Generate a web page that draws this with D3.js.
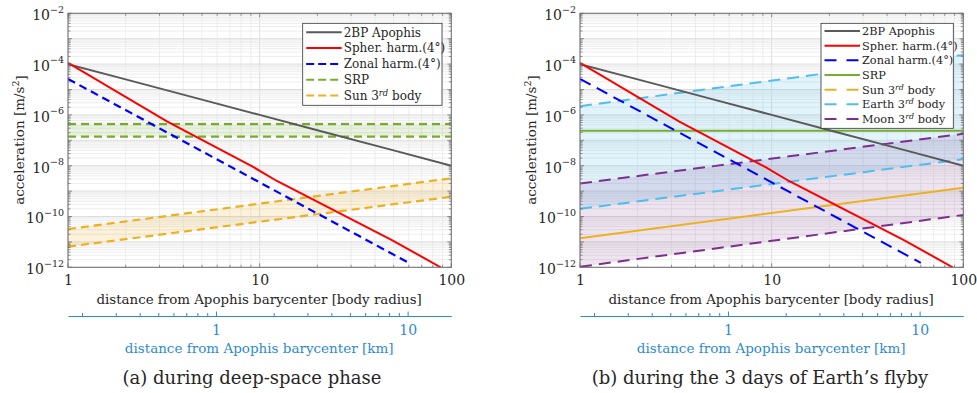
<!DOCTYPE html>
<html>
<head>
<meta charset="utf-8">
<script src="https://cdn.jsdelivr.net/npm/d3@7"></script>
<style>
body { margin: 0; background: #fff; }
svg, svg text { font-family: "DejaVu Serif", "Liberation Serif", serif; }
text { fill: #262626; }
</style>
</head>
<body>
<script>
// distance [body radius] and acceleration [m/s^2]
const dist2BP = [1, 2, 5, 10, 20, 50, 100];
const acc2BP = [1e-4, 2.5e-5, 4e-6, 1e-6, 2.5e-7, 4e-8, 1e-8];
const distSph = [1, 3.3, 9.3, 12.3, 49, 88];
const accSph = [1.13e-4, 5.4e-7, 8.7e-9, 2.5e-9, 1.18e-11, 1e-12];
const distZonal = [1, 10, 60];
const accZonal = [2.6e-5, 2.2e-9, 1.5e-12];
const distEnds = [1, 100];

// deep-space phase
const srpDeepHigh = [4.3e-7, 4.3e-7];
const srpDeepLow = [1.4e-7, 1.4e-7];
const sunDeepHigh = [3.2e-11, 3.2e-9];
const sunDeepLow = [6.5e-12, 6e-10];

// Earth flyby
const srpFlyby = [2.4e-7, 2.4e-7];
const sunFlyby = [1.4e-11, 1.35e-9];
const earthHigh = [2.2e-6, 2.3e-4];
const earthLow = [2e-10, 1.8e-8];
const moonHigh = [2e-9, 1.8e-7];
const moonLow = [1.05e-12, 1.15e-10];

const yTickValues = [1e-2, 1e-4, 1e-6, 1e-8, 1e-10, 1e-12];
const xTickValues = [1, 10, 100];
const kmTickValues = [1, 10];
const apophisRadiusKm = 0.169;

const col = {
  grey: "#5a5a5a", red: "#ff0000", blue: "#0000ff", green: "#77ac30",
  orange: "#edb120", earth: "#4dbeee", moon: "#7e2f8e", km: "#2d8bcf"
};

const svg = d3.select("body").append("svg").attr("width", 977).attr("height", 393);

function pairs(xs, ys) { return xs.map((d, i) => [d, ys[i]]); }

function panel(opt) {
  const x = d3.scaleLog().domain([1, 100]).range([opt.left, opt.left + 383.3]);
  const y = d3.scaleLog().domain([1e-12, 1e-2]).range([267.3, 13.3]);
  const [x0, x1] = x.range(), [y1, y0] = y.range();
  const g = svg.append("g");

  const clipId = "clip" + opt.id;
  g.append("clipPath").attr("id", clipId).append("rect")
    .attr("x", x0).attr("y", y0).attr("width", x1 - x0).attr("height", y1 - y0);

  // grid
  const grid = g.append("g");
  const xt = x.ticks(), yt = y.ticks(20);
  const isMajor = v => Math.abs(Math.log10(v) - Math.round(Math.log10(v))) < 1e-6;
  grid.selectAll(".gx").data(xt).join("line")
    .attr("x1", d => x(d)).attr("x2", d => x(d)).attr("y1", y0).attr("y2", y1)
    .attr("stroke", d => isMajor(d) ? "#d4d4d4" : "#e8e8e8").attr("stroke-width", 0.8);
  grid.selectAll(".gy").data(yt).join("line")
    .attr("y1", d => y(d)).attr("y2", d => y(d)).attr("x1", x0).attr("x2", x1)
    .attr("stroke", d => isMajor(d) ? "#d4d4d4" : "#e8e8e8").attr("stroke-width", 0.8);

  const plot = g.append("g").attr("clip-path", `url(#${clipId})`);
  const line = d3.line().x(d => x(d[0])).y(d => y(d[1]));
  const area = d3.area().x(d => x(d[0])).y0(d => y(d[1])).y1(d => y(d[2]));

  opt.bands.forEach(b => {
    plot.append("path")
      .datum(distEnds.map((d, i) => [d, b.low[i], b.high[i]]))
      .attr("d", area).attr("fill", b.color).attr("fill-opacity", b.alpha);
  });
  opt.series.forEach(s => {
    plot.append("path").datum(pairs(s.xs, s.ys)).attr("d", line)
      .attr("fill", "none").attr("stroke", s.color).attr("stroke-width", s.w || 2)
      .attr("stroke-dasharray", s.dash || null);
  });

  // ticks on all four sides
  const tk = g.append("g").attr("stroke", "#666").attr("stroke-width", 0.7);
  xt.forEach(v => {
    const L = isMajor(v) ? 4 : 2.5;
    tk.append("line").attr("x1", x(v)).attr("x2", x(v)).attr("y1", y1).attr("y2", y1 - L);
    tk.append("line").attr("x1", x(v)).attr("x2", x(v)).attr("y1", y0).attr("y2", y0 + L);
  });
  yt.forEach(v => {
    const L = isMajor(v) ? 4 : 2.5;
    tk.append("line").attr("y1", y(v)).attr("y2", y(v)).attr("x1", x0).attr("x2", x0 + L);
    tk.append("line").attr("y1", y(v)).attr("y2", y(v)).attr("x1", x1).attr("x2", x1 - L);
  });
  g.append("rect").attr("x", x0).attr("y", y0).attr("width", x1 - x0).attr("height", y1 - y0)
    .attr("fill", "none").attr("stroke", "#6e6e6e").attr("stroke-width", 1);

  // x axis labels
  const ax = g.append("g").attr("transform", `translate(0,${y1})`)
    .call(d3.axisBottom(x).tickValues(xTickValues).tickFormat(d3.format("d")).tickSize(0).tickPadding(8));
  ax.select(".domain").remove();
  ax.attr("font-family", null).attr("font-size", 14);

  // y axis labels with superscripts
  const ay = g.append("g").attr("transform", `translate(${x0},0)`)
    .call(d3.axisLeft(y).tickValues(yTickValues).tickSize(0).tickPadding(4).tickFormat(""));
  ay.select(".domain").remove();
  ay.attr("font-family", null).attr("font-size", 14);
  ay.selectAll(".tick text").each(function (d) {
    const t = d3.select(this).attr("dy", "0.45em");
    t.append("tspan").text("10");
    t.append("tspan").attr("font-size", 9.5).attr("dy", "-0.8em")
      .text("\u2212" + Math.round(-Math.log10(d)));
  });

  g.append("text").attr("x", (x0 + x1) / 2 - 0.5).attr("y", 304).attr("text-anchor", "middle")
    .attr("font-size", 13.4).text("distance from Apophis barycenter [body radius]");

  const yl = g.append("text").attr("transform", `translate(${opt.left - 44},140) rotate(-90)`)
    .attr("text-anchor", "middle").attr("font-size", 13.5);
  yl.append("tspan").text("acceleration [m/s");
  yl.append("tspan").attr("font-size", 9.5).attr("dy", "-0.5em").text("2");
  yl.append("tspan").attr("dy", "0.5em").text("]");

  // secondary km axis
  const km = d3.scaleLog().domain([apophisRadiusKm, 100 * apophisRadiusKm]).range([x0, x1]);
  const ak = g.append("g").attr("transform", "translate(0,316)")
    .call(d3.axisBottom(km).tickValues(km.ticks()).tickSizeInner(-3).tickSizeOuter(0).tickPadding(9)
      .tickFormat(d => kmTickValues.includes(d) ? d3.format("d")(d) : ""));
  ak.attr("font-family", null).attr("font-size", 14);
  ak.select(".domain").attr("stroke", col.km).attr("stroke-width", 1);
  ak.selectAll(".tick line").attr("stroke", col.km).attr("y2", d => kmTickValues.includes(d) ? -4.5 : -3);
  ak.selectAll(".tick text").style("fill", col.km);
  g.append("text").attr("x", (x0 + x1) / 2 - 0.5).attr("y", 353).attr("text-anchor", "middle")
    .attr("font-size", 13.5).style("fill", col.km).text("distance from Apophis barycenter [km]");

  g.append("text").attr("x", opt.captionX).attr("y", 384).attr("text-anchor", "middle")
    .attr("font-size", 18).text(opt.caption);

  // legend
  const lg = opt.legend;
  const lgG = g.append("g");
  lgG.append("rect").attr("x", lg.x).attr("y", lg.y).attr("width", lg.w).attr("height", lg.h)
    .attr("fill", "#fff").attr("stroke", "#333").attr("stroke-width", 0.8);
  lg.items.forEach((it, i) => {
    const cy = lg.first + i * lg.step;
    lgG.append("line").attr("x1", lg.x + 3.5).attr("x2", lg.x + 39).attr("y1", cy).attr("y2", cy)
      .attr("stroke", it.color).attr("stroke-width", 2).attr("stroke-dasharray", it.dash || null);
    const t = lgG.append("text").attr("x", lg.x + 41).attr("y", cy).attr("dy", "0.35em")
      .attr("font-size", lg.fs);
    t.append("tspan").text(it.label);
    if (it.sup) {
      t.append("tspan").attr("font-size", lg.fs * 0.7).attr("font-style", "italic").attr("dy", "-0.5em").text(it.sup);
      t.append("tspan").attr("dy", "0.35em").text(it.after);
    }
  });
}

const dashA = "8,5", dashB = "12,7";

panel({
  id: "a", left: 68, captionX: 252, caption: "(a) during deep-space phase",
  bands: [
    { low: srpDeepLow, high: srpDeepHigh, color: col.green, alpha: 0.16 },
    { low: sunDeepLow, high: sunDeepHigh, color: col.orange, alpha: 0.16 }
  ],
  series: [
    { xs: distEnds, ys: srpDeepHigh, color: col.green, dash: dashA, w: 2.2 },
    { xs: distEnds, ys: srpDeepLow, color: col.green, dash: dashA, w: 2.2 },
    { xs: distEnds, ys: sunDeepHigh, color: col.orange, dash: dashA, w: 2.2 },
    { xs: distEnds, ys: sunDeepLow, color: col.orange, dash: dashA, w: 2.2 },
    { xs: dist2BP, ys: acc2BP, color: col.grey },
    { xs: distSph, ys: accSph, color: col.red },
    { xs: distZonal, ys: accZonal, color: col.blue, dash: dashA, w: 2.2 }
  ],
  legend: {
    x: 302.7, y: 23.3, w: 139.3, h: 82, first: 32.3, step: 15.8, fs: 12,
    items: [
      { label: "2BP Apophis", color: col.grey },
      { label: "Spher. harm.(4°)", color: col.red },
      { label: "Zonal harm.(4°)", color: col.blue, dash: "8,4" },
      { label: "SRP", color: col.green, dash: "8,4" },
      { label: "Sun 3", sup: "rd", after: " body", color: col.orange, dash: "8,4" }
    ]
  }
});

panel({
  id: "b", left: 580, captionX: 760, caption: "(b) during the 3 days of Earth\u2019s flyby",
  bands: [
    { low: earthLow, high: earthHigh, color: col.earth, alpha: 0.17 },
    { low: moonLow, high: moonHigh, color: col.moon, alpha: 0.13 }
  ],
  series: [
    { xs: distEnds, ys: earthHigh, color: col.earth, dash: dashB },
    { xs: distEnds, ys: earthLow, color: col.earth, dash: dashB },
    { xs: distEnds, ys: moonHigh, color: col.moon, dash: dashB },
    { xs: distEnds, ys: moonLow, color: col.moon, dash: dashB },
    { xs: distEnds, ys: srpFlyby, color: col.green },
    { xs: distEnds, ys: sunFlyby, color: col.orange },
    { xs: dist2BP, ys: acc2BP, color: col.grey },
    { xs: distSph, ys: accSph, color: col.red },
    { xs: distZonal, ys: accZonal, color: col.blue, dash: dashB }
  ],
  legend: {
    x: 821, y: 23.3, w: 132.3, h: 105, first: 31, step: 14.67, fs: 11.3,
    items: [
      { label: "2BP Apophis", color: col.grey },
      { label: "Spher. harm.(4°)", color: col.red },
      { label: "Zonal harm.(4°)", color: col.blue, dash: "12,10" },
      { label: "SRP", color: col.green },
      { label: "Sun 3", sup: "rd", after: " body", color: col.orange, dash: "12,10" },
      { label: "Earth 3", sup: "rd", after: " body", color: col.earth, dash: "12,10" },
      { label: "Moon 3", sup: "rd", after: " body", color: col.moon, dash: "12,10" }
    ]
  }
});
</script>
</body>
</html>
